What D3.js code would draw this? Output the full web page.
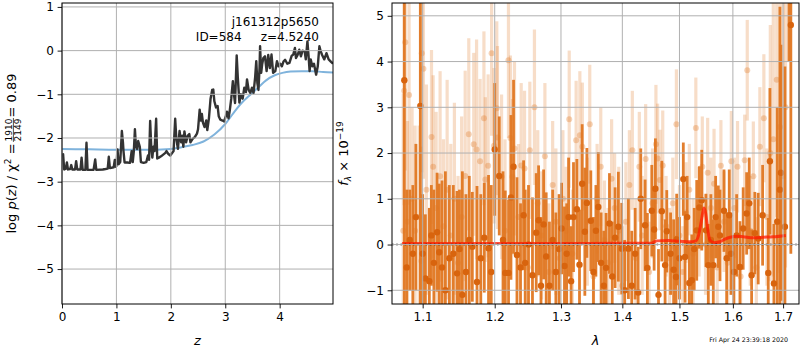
<!DOCTYPE html>
<html>
<head>
<meta charset="utf-8">
<script src="https://cdn.jsdelivr.net/npm/d3@7"></script>
<style>
  html, body { margin: 0; padding: 0; background: #fff; }
  svg { display: block; font-family: "DejaVu Sans", sans-serif; }
</style>
</head>
<body>
<svg id="fig" width="800" height="350"></svg>
<script>
// ---- redshift probability: z grid and log p(z)
const pzZ = [0.00,0.02,0.04,0.07,0.09,0.11,0.15,0.17,0.19,0.24,0.26,0.28,0.34,0.36,0.38,0.43,0.45,0.47,0.58,0.61,0.63,0.75,0.80,0.84,0.86,0.88,0.95,0.97,0.99,1.00,
  1.02,1.04,1.07,1.10,1.12,1.13,1.15,1.20,1.25,1.28,1.30,1.32,1.34,1.36,1.38,1.40,1.43,1.45,1.50,1.55,1.58,1.60,1.62,1.64,1.66,1.68,1.70,1.73,1.75,1.78,
  1.82,1.86,1.90,1.92,1.95,1.99,2.02,2.05,2.08,2.10,2.13,2.16,2.19,2.21,2.23,2.25,2.28,2.31,2.34,2.36,2.40,2.44,2.48,2.50,2.53,2.55,2.57,2.59,2.62,2.65,
  2.67,2.70,2.73,2.76,2.78,2.80,2.83,2.86,2.88,2.91,2.95,2.98,3.01,3.03,3.06,3.08,3.11,3.14,3.16,3.18,3.21,3.23,3.26,3.29,3.32,3.35,3.38,3.40,3.43,3.46,
  3.49,3.52,3.55,3.57,3.59,3.61,3.63,3.64,3.66,3.68,3.70,3.73,3.76,3.79,3.82,3.85,3.88,3.92,3.95,3.98,4.01,4.04,4.07,4.10,4.14,4.18,4.22,4.25,4.28,4.30,
  4.33,4.36,4.39,4.42,4.46,4.48,4.51,4.53,4.55,4.57,4.60,4.63,4.67,4.70,4.73,4.75,4.78,4.82,4.86,4.90,4.94,4.98];
const pzLog = [-2.40,-2.37,-2.72,-2.70,-2.56,-2.72,-2.71,-2.62,-2.72,-2.72,-2.53,-2.72,-2.72,-2.45,-2.73,-2.73,-2.11,-2.73,-2.73,-2.49,-2.73,-2.72,-2.71,-2.70,-2.43,-2.69,-2.67,-2.50,-2.66,-2.64,
  -2.26,-2.60,-2.55,-1.84,-2.10,-2.30,-2.56,-2.56,-2.57,-2.30,-2.55,-2.30,-1.80,-2.20,-2.25,-2.07,-2.20,-2.55,-2.57,-2.55,-2.40,-2.50,-1.61,-2.20,-2.45,-2.20,-2.30,-1.56,-2.47,-2.45,
  -2.42,-2.38,-2.34,-2.30,-2.36,-2.40,-2.35,-2.30,-1.56,-2.00,-2.25,-1.84,-2.10,-1.95,-2.20,-1.85,-2.10,-1.95,-1.91,-2.10,-2.02,-1.98,-1.90,-1.80,-1.35,-1.60,-1.45,-1.65,-1.75,-1.60,
  -1.82,-1.55,-1.10,-0.90,-0.89,-1.16,-1.30,-1.27,-1.50,-1.58,-1.60,-1.62,-1.50,-1.40,-1.55,-1.40,-1.10,-0.70,-1.00,-1.20,-0.11,-0.60,-1.19,-1.00,-1.10,-0.85,-0.95,-0.66,-0.90,-0.97,
  -0.85,-0.97,-0.60,-0.24,-0.74,-0.90,-0.40,0.10,-0.51,-0.30,-0.17,-0.13,-0.47,-0.10,-0.40,-0.09,-0.51,-0.47,-0.24,-0.36,-0.30,-0.36,-0.25,-0.21,-0.30,-0.28,-0.12,-0.09,0.06,-0.17,
  -0.10,0.02,-0.13,0.00,-0.02,-0.20,0.21,-0.10,-0.47,-0.20,-0.36,-0.30,-0.55,-0.36,0.10,0.00,-0.10,-0.20,-0.06,-0.20,-0.25,-0.30];

// ---- prior on z
const priorZ = [0.0,0.5,1.0,1.5,2.0,2.2,2.4,2.6,2.8,3.0,3.15,3.3,3.45,3.6,3.75,3.9,4.05,4.2,4.4,4.6,4.8,4.98];
const priorLog = [-2.25,-2.26,-2.27,-2.27,-2.25,-2.21,-2.16,-2.08,-1.92,-1.68,-1.43,-1.20,-1.02,-0.85,-0.68,-0.57,-0.51,-0.48,-0.47,-0.47,-0.49,-0.50];

const zTicks = [0,1,2,3,4];
const logTicks = [-5,-4,-3,-2,-1,0,1];

// ---- 1D spectrum, main extraction (wavelength in micron, flux and error in 1e-19)
const specWave = [1.0759,1.079,1.083,1.087,1.091,1.0969,1.100,1.1036,1.1089,1.1116,1.115,1.1193,1.1222,1.126,1.1306,1.136,1.1415,1.1466,1.150,1.154,
  1.159,1.1637,1.168,1.1746,1.180,1.185,1.1911,1.195,1.200,1.2066,1.2121,1.2154,1.2202,1.2238,1.2276,1.2327,1.238,1.2426,1.245,1.250,
  1.256,1.2617,1.2653,1.269,1.273,1.277,1.282,1.287,1.292,1.297,1.301,1.3055,1.309,1.312,1.316,1.3198,1.3252,1.3294,1.3337,1.338,
  1.3413,1.3477,1.352,1.356,1.360,1.3646,1.369,1.3728,1.3784,1.383,1.3878,1.3933,1.399,1.404,1.4103,1.416,1.4218,1.427,1.4315,1.439,
  1.443,1.4507,1.4548,1.457,1.4625,1.4684,1.4742,1.4772,1.484,1.4895,1.4938,1.495,1.500,1.507,1.5102,1.514,1.518,1.5224,1.527,1.5316,
  1.5365,1.5409,1.5488,1.5532,1.558,1.5626,1.567,1.5721,1.5753,1.5829,1.588,1.593,1.5963,1.602,1.6073,1.6137,1.620,1.6268,1.6319,1.6366,
  1.643,1.6497,1.6585,1.6698,1.6732,1.6813,1.688,1.6935,1.6956,1.7038,1.712,1.716];
const specFlux = [3.59,-0.5,0.1,-0.2,0.6,3.03,-0.2,-0.74,-0.8,0.2,-0.4,0.27,-0.17,-0.5,-1.0,-0.3,-0.2,-0.63,-0.1,-1.1,
  -0.6,0.1,-0.05,-0.82,-0.3,0.15,-0.08,-0.6,2.08,1.5,0.1,-0.62,-0.62,1.03,1.7,-0.23,-0.5,0.64,-0.4,0.0,
  -0.67,0.26,0.53,-0.9,0.44,-0.26,-0.9,0.1,-0.6,-0.1,0.35,-0.47,-0.2,0.6,-0.8,0.6,0.77,-0.44,1.33,0.28,
  0.91,0.52,-0.6,0.3,0.82,-0.4,-0.9,-0.51,0.46,-0.7,0.15,0.39,-0.09,-1.0,-0.09,-0.9,-0.2,-1.05,1.0,0.42,
  -0.51,0.74,0.33,1.22,-1.1,0.73,-0.45,0.29,-0.2,-0.55,-0.71,0.11,-0.3,1.43,-0.27,0.6,-0.84,-0.78,-0.1,0.31,
  0.81,0.97,0.31,-0.45,0.1,-0.45,0.6,0.39,0.2,0.74,-0.3,0.64,-0.2,-0.6,0.2,-0.49,0.35,0.68,0.9,-0.67,
  0.25,0.13,0.64,-0.62,1.82,-0.85,0.5,1.2,1.57,0.39,6.5,4.8];
const specErr = [6.0,1.7,1.1,1.5,1.6,5.0,1.3,1.4,1.6,1.1,1.6,1.3,1.5,1.9,2.6,1.6,1.5,1.8,1.3,2.7,
  1.7,1.4,1.2,2.1,1.4,1.2,1.6,1.9,1.45,1.3,1.5,1.8,1.6,1.8,1.9,1.7,1.4,1.2,1.6,1.3,
  1.7,1.3,1.2,1.5,1.2,1.4,1.4,1.1,1.3,1.2,1.0,1.3,1.1,1.3,1.2,1.2,1.1,1.2,1.3,1.4,
  1.2,1.1,1.2,1.0,1.2,1.1,1.2,1.2,1.1,1.2,1.1,1.2,1.0,1.1,1.1,1.2,1.0,1.0,1.1,1.0,
  1.2,1.0,0.9,1.1,1.0,1.1,1.0,0.9,0.9,1.1,0.9,1.0,0.9,0.8,1.0,0.9,0.9,1.0,0.9,1.1,
  0.9,1.1,0.8,0.9,1.0,1.0,0.9,0.9,1.0,0.9,1.0,1.0,0.9,0.8,0.9,1.0,0.9,0.9,1.0,1.0,
  0.9,1.0,1.1,1.2,1.6,1.3,2.5,4.0,2.8,3.5,2.5,5.0];

// ---- 1D spectrum, second extraction
const altWave = [1.0745,1.0757,1.0771,1.080,1.0821,1.086,1.090,1.0953,1.0983,1.0988,1.101,1.105,1.1118,1.114,1.118,1.1234,1.128,1.133,1.138,1.143,
  1.148,1.153,1.158,1.163,1.170,1.174,1.179,1.1845,1.1865,1.1905,1.1955,1.199,1.203,1.204,1.210,1.215,1.2201,1.223,1.226,1.229,
  1.235,1.239,1.244,1.249,1.252,1.259,1.264,1.270,1.275,1.281,1.287,1.292,1.298,1.303,1.308,1.313,1.318,1.324,1.330,1.334,
  1.342,1.346,1.352,1.358,1.364,1.370,1.376,1.382,1.387,1.394,1.400,1.406,1.412,1.417,1.423,1.429,1.434,1.440,1.446,1.452,
  1.458,1.461,1.465,1.470,1.476,1.482,1.488,1.4945,1.500,1.506,1.512,1.518,1.525,1.530,1.536,1.542,1.548,1.552,1.558,1.564,
  1.570,1.577,1.583,1.590,1.597,1.603,1.609,1.615,1.623,1.628,1.634,1.640,1.646,1.653,1.661,1.667,1.674,1.680,1.687,1.6936,
  1.700,1.705];
const altFlux = [0.3,3.36,4.42,0.5,3.27,1.0,0.3,0.6,-0.36,4.18,3.84,1.2,2.35,1.7,0.8,1.49,0.4,1.2,0.2,1.0,
  -0.4,0.6,1.5,2.41,2.19,2.08,1.82,2.76,1.42,1.72,4.18,2.16,2.98,2.34,1.48,0.3,4.03,2.33,1.48,2.1,
  0.6,1.73,1.66,-0.5,2.06,3.0,0.9,0.2,1.93,-0.6,1.3,0.5,-0.3,1.0,0.3,2.74,-0.2,2.28,2.39,2.14,
  0.5,2.63,-0.7,1.0,1.7,0.1,-0.4,1.44,0.8,0.3,-0.9,0.5,1.3,2.06,-0.3,1.7,0.2,1.87,-0.6,0.9,
  2.19,1.88,1.41,1.73,0.4,-0.3,0.9,2.63,0.2,-0.6,0.7,1.2,-0.2,2.55,0.5,1.7,0.0,1.57,0.8,1.33,
  -0.5,1.72,0.5,-0.4,1.82,0.8,1.7,-0.7,1.84,3.81,0.3,1.49,-0.5,2.14,2.76,0.6,2.0,2.3,3.6,2.57,
  1.5,3.0];
const altErr = [3.0,2.5,2.8,2.2,2.4,2.0,2.3,2.0,2.5,2.6,2.4,2.3,1.9,2.0,2.1,2.3,1.9,2.4,2.0,2.1,
  1.9,2.2,2.3,2.1,2.0,2.4,1.8,1.9,1.8,2.0,1.8,1.7,1.9,2.0,1.8,2.0,1.7,1.8,1.7,1.9,
  1.6,1.8,1.7,1.5,1.5,1.7,1.6,1.4,1.6,1.5,1.4,1.6,1.4,1.5,1.4,1.5,1.4,1.3,1.4,1.4,
  1.4,1.3,1.3,1.2,1.3,1.3,1.2,1.3,1.2,1.4,1.3,1.3,1.2,1.3,1.3,1.2,1.3,1.2,1.1,1.2,
  1.3,1.2,1.1,1.2,1.1,1.1,1.0,1.2,1.1,1.0,1.1,1.0,1.2,1.1,1.2,1.1,1.1,1.2,1.1,1.2,
  1.1,1.0,1.1,1.0,1.1,1.1,1.0,1.1,1.0,1.1,1.2,1.2,1.1,1.3,1.4,1.5,2.8,3.0,3.0,3.2,
  4.0,3.5];

// ---- best-fit model
const modelWave = [1.073,1.10,1.20,1.30,1.40,1.45,1.455,1.46,1.48,1.50,1.52,1.53,1.535,1.540,1.545,1.548,1.552,1.556,1.565,1.575,1.585,1.595,1.607,1.62,1.64,1.66,1.68,1.7057];
const modelFlux = [0.02,0.02,0.02,0.02,0.03,0.03,0.06,0.08,0.09,0.07,0.06,0.08,0.2,0.5,0.8,0.7,0.35,0.1,0.04,0.06,0.12,0.16,0.18,0.17,0.15,0.16,0.17,0.2];

const waveTicks = [1.1,1.2,1.3,1.4,1.5,1.6,1.7];
const fluxTicks = [-1,0,1,2,3,4,5];

const svg = d3.select("#fig");
const gridColor = "#b0b0b0";
const tickLen = 4.4, tickPad = 3.6, fontSize = 12;

// panel frames
const L = {x0: 62, x1: 333, y0: 3, y1: 304};
const R = {x0: 392, x1: 799, y0: 3, y1: 304};

const xz = d3.scaleLinear([0, 4.98], [L.x0, L.x1]);
const yz = d3.scaleLinear([-5.8, 1.09], [L.y1, L.y0]);
const xw = d3.scaleLog([1.06, 1.733], [R.x0, R.x1]);
const yf = d3.scaleLinear([-1.3, 5.28], [R.y1, R.y0]);

const defs = svg.append("defs");
[["clipL", L], ["clipR", R]].forEach(([id, p]) => {
  defs.append("clipPath").attr("id", id).append("rect")
    .attr("x", p.x0).attr("y", p.y0).attr("width", p.x1 - p.x0).attr("height", p.y1 - p.y0);
});

function axes(p, xs, ys, xt, yt, xfmt, yfmt) {
  const gx = svg.append("g").attr("transform", `translate(0,${p.y1})`)
    .call(d3.axisBottom(xs).tickValues(xt).tickFormat(xfmt).tickSize(tickLen).tickPadding(tickPad));
  const gy = svg.append("g").attr("transform", `translate(${p.x0},0)`)
    .call(d3.axisLeft(ys).tickValues(yt).tickFormat(yfmt).tickSize(tickLen).tickPadding(tickPad));
  [gx, gy].forEach(g => {
    g.select(".domain").remove();
    g.selectAll("text").attr("font-size", fontSize).attr("font-family", "DejaVu Sans").attr("fill", "#000");
    g.selectAll("line").attr("stroke", "#000").attr("stroke-width", 0.9);
  });
}

function grid(p, xs, ys, xt, yt) {
  const g = svg.append("g").attr("stroke", gridColor).attr("stroke-width", 1);
  xt.forEach(v => g.append("line").attr("x1", xs(v)).attr("x2", xs(v)).attr("y1", p.y0).attr("y2", p.y1));
  yt.forEach(v => { const y = ys(v); if (y > p.y0 && y < p.y1) g.append("line").attr("x1", p.x0).attr("x2", p.x1).attr("y1", y).attr("y2", y); });
}

function frame(p) {
  svg.append("rect").attr("x", p.x0).attr("y", p.y0).attr("width", p.x1 - p.x0).attr("height", p.y1 - p.y0)
    .attr("fill", "none").attr("stroke", "#000").attr("stroke-width", 1);
}

// ================= left panel: p(z)
const gl = svg.append("g").attr("clip-path", "url(#clipL)");
gl.append("path").datum(priorZ.map((z, i) => [z, priorLog[i]]))
  .attr("d", d3.line().x(d => xz(d[0])).y(d => yz(d[1])).curve(d3.curveMonotoneX)).attr("fill", "none")
  .attr("stroke", "#7fb3dc").attr("stroke-width", 2);
gl.append("path").datum(pzZ.map((z, i) => [z, pzLog[i]]))
  .attr("d", d3.line().x(d => xz(d[0])).y(d => yz(d[1]))).attr("fill", "none")
  .attr("stroke", "#333333").attr("stroke-width", 2.4).attr("stroke-linejoin", "round");

grid(L, xz, yz, zTicks, logTicks);
frame(L);
axes(L, xz, yz, zTicks, logTicks, d3.format("d"), d3.format("d"));

svg.append("text").attr("x", 319).attr("y", 26).attr("text-anchor", "end")
  .attr("font-size", 12).text("j161312p5650");
svg.append("text").attr("x", 319).attr("y", 41).attr("text-anchor", "end")
  .attr("font-size", 12).attr("xml:space", "preserve").style("white-space", "pre").text("ID=584     z=4.5240");

svg.append("text").attr("x", (L.x0 + L.x1) / 2).attr("y", 345).attr("text-anchor", "middle")
  .attr("font-size", 13).attr("font-style", "italic").text("z");

// y label with stacked fraction
(function () {
  const g = svg.append("g").attr("transform", "translate(16,153.5) rotate(-90)");
  const t1 = g.append("text").attr("font-size", 13).attr("y", 0);
  t1.append("tspan").text("log ");
  t1.append("tspan").attr("font-style", "italic").text("p");
  t1.append("tspan").text("(");
  t1.append("tspan").attr("font-style", "italic").text("z");
  t1.append("tspan").text(") / χ");
  t1.append("tspan").attr("font-size", 9).attr("dy", -5).text("2");
  t1.append("tspan").attr("font-size", 13).attr("dy", 5).text(" = ");
  const num = g.append("text").attr("font-size", 9).attr("text-anchor", "middle").attr("y", -4.5).text("1910");
  const den = g.append("text").attr("font-size", 9).attr("text-anchor", "middle").attr("y", 5).text("2149");
  const t2 = g.append("text").attr("font-size", 13).attr("y", 0).text(" = 0.89");
  const w1 = t1.node().getComputedTextLength() + 1;
  const wf = Math.max(num.node().getComputedTextLength(), den.node().getComputedTextLength()) + 2;
  const w2 = t2.node().getComputedTextLength();
  const x0 = -(w1 + wf + w2) / 2;
  t1.attr("x", x0);
  num.attr("x", x0 + w1 + wf / 2);
  den.attr("x", x0 + w1 + wf / 2);
  g.append("line").attr("x1", x0 + w1 + 0.5).attr("x2", x0 + w1 + wf - 0.5).attr("y1", -2.6).attr("y2", -2.6)
    .attr("stroke", "#000").attr("stroke-width", 0.7);
  t2.attr("x", x0 + w1 + wf);
})();

// ================= right panel: spectrum
const gr = svg.append("g").attr("clip-path", "url(#clipR)");
const orange = "#e07722";

const alt = altWave.map((w, i) => ({w, f: altFlux[i], e: altErr[i]}));
const main = specWave.map((w, i) => ({w, f: specFlux[i], e: specErr[i]}));

gr.append("g").selectAll("line").data(alt).join("line")
  .attr("x1", d => xw(d.w)).attr("x2", d => xw(d.w))
  .attr("y1", d => yf(d.f - d.e)).attr("y2", d => yf(d.f + d.e))
  .attr("stroke", orange).attr("stroke-opacity", 0.25).attr("stroke-width", 3.2);
gr.append("g").selectAll("circle").data(alt).join("circle")
  .attr("cx", d => xw(d.w)).attr("cy", d => yf(d.f)).attr("r", 3)
  .attr("fill", orange).attr("fill-opacity", 0.32);

gr.append("g").selectAll("line").data(main).join("line")
  .attr("x1", d => xw(d.w)).attr("x2", d => xw(d.w))
  .attr("y1", d => yf(d.f - d.e)).attr("y2", d => yf(d.f + d.e))
  .attr("stroke", orange).attr("stroke-opacity", 0.95).attr("stroke-width", 2.8);
gr.append("g").selectAll("circle").data(main).join("circle")
  .attr("cx", d => xw(d.w)).attr("cy", d => yf(d.f)).attr("r", 3.2)
  .attr("fill", "#d8640e");

gr.append("path").datum(modelWave.map((w, i) => [w, modelFlux[i]]))
  .attr("d", d3.line().x(d => xw(d[0])).y(d => yf(d[1])).curve(d3.curveMonotoneX))
  .attr("fill", "none").attr("stroke", "#ff1a00").attr("stroke-opacity", 0.75).attr("stroke-width", 3);

gr.append("line").attr("x1", R.x0).attr("x2", R.x1).attr("y1", yf(0)).attr("y2", yf(0))
  .attr("stroke", "#000").attr("stroke-width", 1.6).attr("stroke-dasharray", "1.6,2.6");

grid(R, xw, yf, waveTicks, fluxTicks);
frame(R);
axes(R, xw, yf, waveTicks, fluxTicks, d3.format(".1f"), d3.format("d"));

svg.append("text").attr("x", (R.x0 + R.x1) / 2).attr("y", 345).attr("text-anchor", "middle")
  .attr("font-size", 13).attr("font-style", "italic").text("λ");

(function () {
  const g = svg.append("g").attr("transform", "translate(348,153.5) rotate(-90)");
  const t = g.append("text").attr("font-size", 13).attr("text-anchor", "middle");
  t.append("tspan").attr("font-style", "italic").text("f");
  t.append("tspan").attr("font-size", 9).attr("font-style", "italic").attr("dy", 3).text("λ");
  t.append("tspan").attr("font-size", 13).attr("dy", -3).text(" × 10");
  t.append("tspan").attr("font-size", 9).attr("dy", -5).text("−19");
})();

svg.append("text").attr("x", 788).attr("y", 342).attr("text-anchor", "end")
  .attr("font-size", 6.3).text("Fri Apr 24 23:39:18 2020");
</script>
</body>
</html>
